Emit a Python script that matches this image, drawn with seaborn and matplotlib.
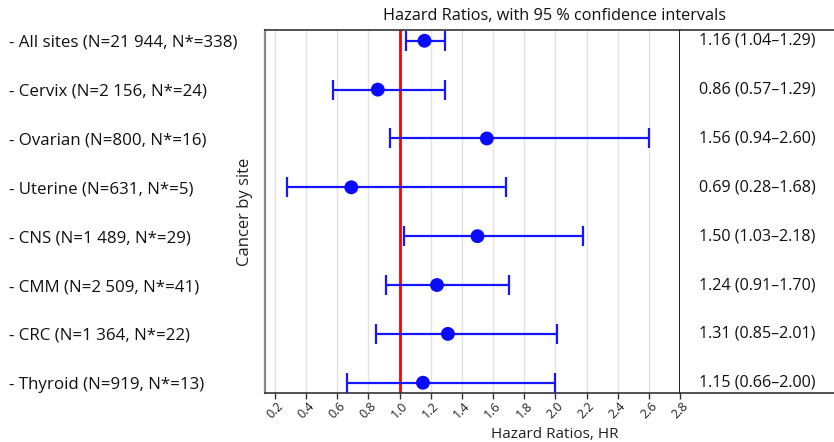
import matplotlib
matplotlib.use("Agg")
import matplotlib.pyplot as plt
import seaborn as sns
import numpy as np
import pandas as pd

sites = ["All sites (N=21 944, N*=338)", "Cervix (N=2 156, N*=24)", "Ovarian (N=800, N*=16)",
         "Uterine (N=631, N*=5)", "CNS (N=1 489, N*=29)", "CMM (N=2 509, N*=41)",
         "CRC (N=1 364, N*=22)", "Thyroid (N=919, N*=13)"]
hr = [1.16, 0.86, 1.56, 0.69, 1.50, 1.24, 1.31, 1.15]
lo = [1.04, 0.57, 0.94, 0.28, 1.03, 0.91, 0.85, 0.66]
hi = [1.29, 1.29, 2.60, 1.68, 2.18, 1.70, 2.01, 2.00]
xticks = [0.2, 0.4, 0.6, 0.8, 1.0, 1.2, 1.4, 1.6, 1.8, 2.0, 2.2, 2.4, 2.6, 2.8]

df = pd.DataFrame({"site": sites, "hr": hr, "lo": lo, "hi": hi, "pos": np.arange(len(sites))})

sns.set_theme(style="white")
plt.rcParams["font.family"] = ["Open Sans", "DejaVu Sans"]

W, H = 834, 442
fig = plt.figure(figsize=(W / 100, H / 100), dpi=100)
L, R, T, B = 265, 680, 30, 393
ax = fig.add_axes([L / W, 1 - B / H, (R - L) / W, (B - T) / H])
ax2 = fig.add_axes([R / W, 1 - B / H, (W - R) / W, (B - T) / H], sharey=ax)

# grid
for t in xticks:
    ax.axvline(t, color="#e3e3e3", lw=1, zorder=0)
ax.axvline(1.0, color="red", lw=2, zorder=2)

ax.errorbar(df["hr"], df["pos"], xerr=[df["hr"] - df["lo"], df["hi"] - df["hr"]],
            fmt="none", ecolor="#1515ff", elinewidth=1.6, capsize=7, capthick=1.6, zorder=3)
sns.scatterplot(data=df, x="hr", y="pos", ax=ax, color="#0a0aff", s=100, edgecolor="none",
                zorder=4, legend=False)

ax.set_xlim(0.136, 2.8)
ax.set_ylim(7.21, -0.22)
ax.set_xticks(xticks)
ax.set_xticklabels([f"{t:.1f}" for t in xticks], rotation=45, fontsize=9, color="#222222")
ax.tick_params(axis="x", length=4, width=1, color="#333333", pad=1, direction="out", bottom=True)
ax.set_yticks(df["pos"])
ax.set_yticklabels(["- " + s for s in sites], fontsize=12.2, ha="left", color="#111111")
ax.tick_params(axis="y", length=0, pad=(L - 9) * 0.72)
ax.set_xlabel("Hazard Ratios, HR", fontsize=11, color="#222222")
ax.xaxis.set_label_coords((555 - L) / (R - L), -0.095)
ax.set_ylabel("Cancer by site", fontsize=12, color="#222222")
ax.yaxis.set_label_coords(-0.03, 0.5)

for side in ["top", "bottom"]:
    ax.spines[side].set_color("#333333")
    ax.spines[side].set_linewidth(1.2)
ax.spines["left"].set_color("#888888")
ax.spines["left"].set_linewidth(1.6)
ax.spines["right"].set_color("#222222")
ax.spines["right"].set_linewidth(1.4)

# table column
for i, row in df.iterrows():
    ax2.text(0.5, row["pos"], f"{row['hr']:.2f} ({row['lo']:.2f}\u2013{row['hi']:.2f})",
             transform=ax2.get_yaxis_transform(), ha="center", va="center", fontsize=11.6,
             color="#111111")
ax2.set_xlim(0, 1)
ax2.tick_params(left=False, bottom=False, labelleft=False, labelbottom=False)
for side in ["top", "bottom"]:
    ax2.spines[side].set_color("#333333")
    ax2.spines[side].set_linewidth(1.2)
ax2.spines["left"].set_visible(False)
ax2.spines["right"].set_visible(False)

fig.text((L + W) / 2 / W + 0.006, 1 - 16 / H, "Hazard Ratios, with 95 % confidence intervals",
         ha="center", va="center", fontsize=11.7, color="#111111")

fig.savefig("out.png", dpi=100)
